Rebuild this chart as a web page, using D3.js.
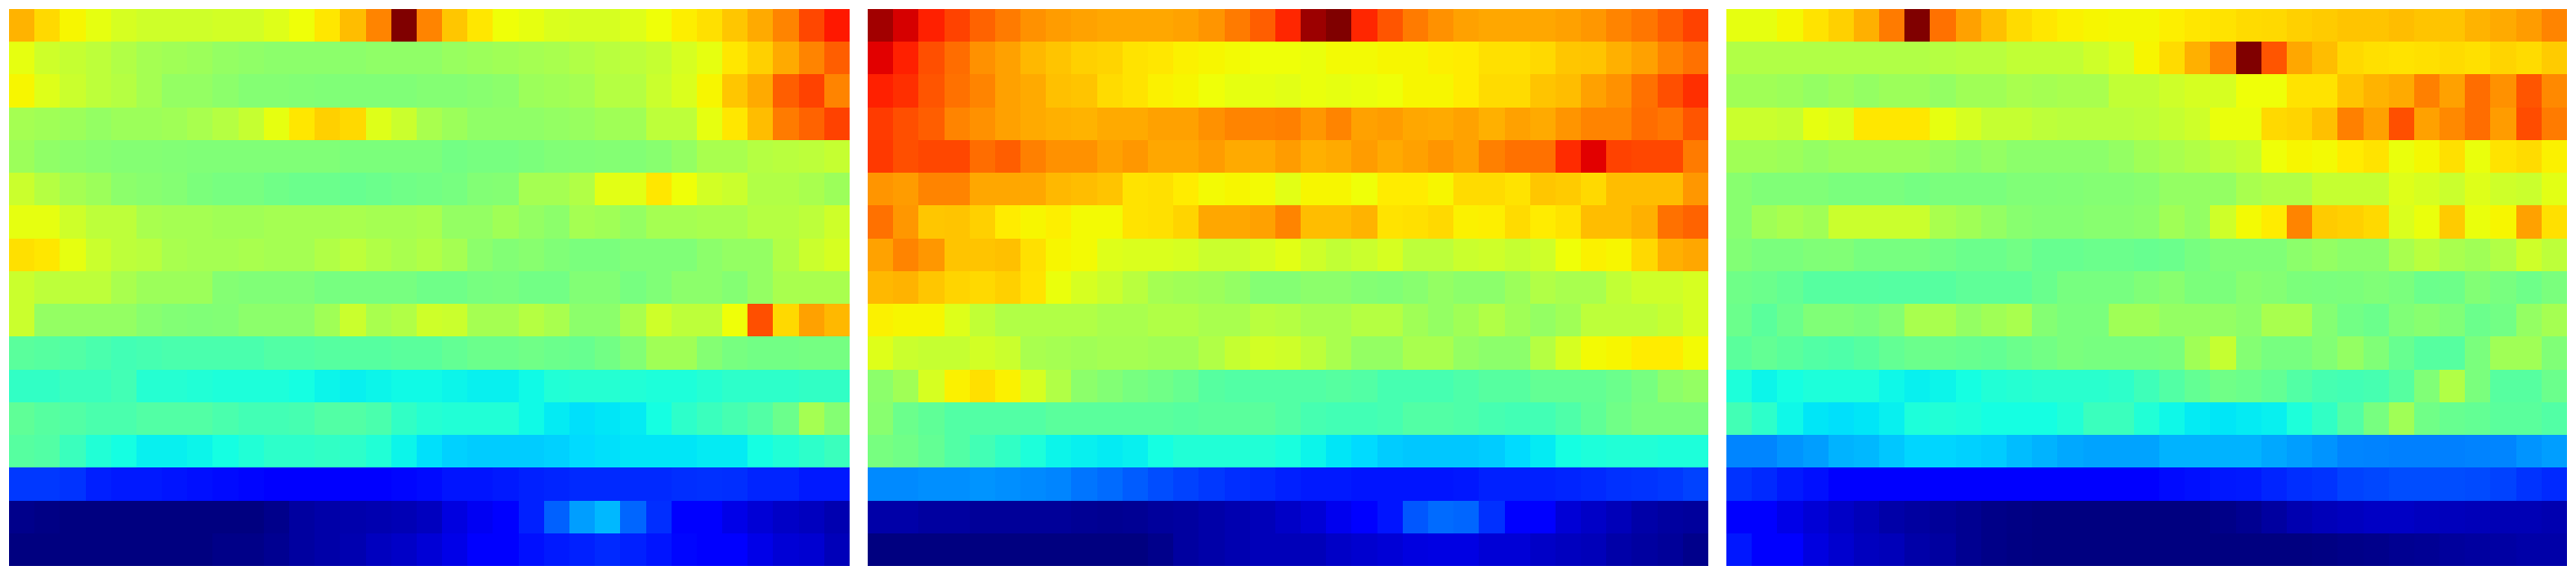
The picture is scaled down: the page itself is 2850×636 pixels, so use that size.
<!DOCTYPE html>
<html>
<head>
<meta charset="utf-8">
<script src="https://cdn.jsdelivr.net/npm/d3@7"></script>
<style>
  html, body { margin: 0; padding: 0; background: #ffffff; }
  svg { display: block; }
</style>
</head>
<body>
<svg id="chart" width="2850" height="636"></svg>
<script>
// ---- Data (values on a 0-100 colour scale, rows top -> bottom, 33 columns each) ----
const columns = d3.range(33);
const rows = d3.range(17);

const panel1 = [
  [72,68,65,63,61,60,60,60,60.5,60.5,62,64,66.5,71,77,100,77,70,66.5,64,63,61.5,61,61,62,64,65.8,67.3,70,73,77,83.5,88.5],
  [63,60,59,58,56.5,55,54.5,54,53,52.5,52,52,52,52,52.5,52.5,52.5,53.5,54,54.5,55,55.5,56.5,57.5,58,59,61,63,66.5,69,73,77,81],
  [65,62,59.5,58,57,55,53,53,52,51,51,50.8,50.5,50.5,50.5,50.5,51,51,51.5,52,54,54.5,55,57,57,59.5,61.5,65,70,73,81,84,77],
  [55,54.5,54,53,54,54,54.5,55.5,57,59,63,66.5,69,68,62,59.5,55.5,54,52.5,52.5,52.5,53,53.5,54.5,54.5,58,58,63,66.5,71,78,80.5,84],
  [54,52.5,52,51.5,51,51,50.8,50.5,50.5,50.5,50.5,50.5,50.5,50,50,50,50,49,49.5,49.5,50,50.7,50.8,51,50.8,51.5,53,55.5,55.5,57,57.5,58,59],
  [59.5,57,55,54,52,51.5,51,50,49.5,49.5,48.6,48,48,47.5,48,48.6,49,49.5,50.8,51,55,55,56.5,62.5,62.5,66.5,64,60.5,59.5,56.5,56.5,55.5,54],
  [63,63,60,58,58,55.5,55,55,54.5,54.5,55,55,55,55.5,55,55,55.5,53,53,54.5,53,52,55,54.5,53,55,55,55.5,55.5,57,57,58,60],
  [67.3,66.5,63,59.5,58,57.5,55.5,55,55,55.5,55,55,56.5,58,56.5,55.5,56.5,55,52,50.8,51.5,50.5,49.8,49.8,50.5,50.5,50.5,52,53,53,56.5,59.5,61],
  [59.5,58,58,58,55.5,54,54,54,51,50.5,50.5,50.5,49.5,49.5,49.5,49.5,48.5,48.5,49.5,49.7,48.8,48.8,50.8,50.8,49.5,50.5,52,52,51,53,55.5,55.5,55.5],
  [59.5,53,53,53,53,51.5,50.8,50.5,50.8,52,52,52,54.5,59.5,55.5,56.5,60,59.5,55,55,57,55.5,52,52,55.5,60,58,58,64,82.6,68,74,71.5],
  [46,45.5,45,44,43,43.5,44,44,44,44,45,45,45.5,45.5,45.5,46,46,47,48,48,48.6,48,47.5,48.8,50.8,54.5,54.5,51,49.5,48.8,48.8,49.2,49.2],
  [41,41,42,42,43,39.5,39.5,39,38.5,38.5,38.5,37.5,36.5,36,36.5,37,37,36.5,36,36,37,39,39.5,39.5,39,38.5,38.5,39.5,40.5,40.5,40.5,41,41],
  [46.6,45.5,45,44,44,45,45,45,44,43,43,43.5,45,45,44,41,39.5,39,39,39,37,35.5,34.5,35,35.5,37.5,40.5,42,43.5,45,48,55,51],
  [45.5,45,42,39,37.5,36,36,36.5,37.5,39,40.5,40.5,41,40.5,39,36.5,34.5,33,32.5,32.5,32.5,33,34,34.5,35,35,35,35.5,35.5,37.5,39,40.5,42],
  [18,18,17.5,15.5,15,15,14.5,14,13.5,13,12.5,12,12,12,12,13,13.5,14.5,14.5,15,15.6,16,16.5,16.5,16.5,16.5,17,17.2,17,16,16,15,15],
  [1,0.5,0,0,0,0,0,0,0,0,1,2.8,3.5,3.8,4.2,4.6,5.5,8.3,10,12,15.6,22,28,30.5,22.5,17,12,11.5,9,7.5,6.2,5.5,4.2],
  [0,0,0,0,0,0,0,0,0.7,0.7,1.5,2.8,3.5,4.2,5.5,6.2,7.5,9,11.5,12,14,15,15.6,16.5,15.6,14.5,13,12,11.5,9,7.5,7,5]
];

const panel2 = [
  [97,92.5,87.6,84,80.5,78,75.7,74.5,73.8,73.3,73.3,73.3,73.8,75.2,78,81,87,97.5,100,87,82,78,75.7,74,73.3,73.3,73.3,74,75,77,78.5,81,84],
  [91.5,87.6,82.6,79.5,75.7,74,71.5,70.2,69,68.5,67,66.5,65.5,65,64.5,64,64,63.5,64.5,64.5,65,65,65.7,66,67.3,67.3,68,70,70.2,72.4,74,77,79],
  [87.6,86,82,79,77,74,73,70.7,70.2,67.8,67,65.5,65,64,63,63,62.5,63.5,63,63.5,64,65,65,66,67.8,67.8,70.2,71,74,75.7,79,82.6,86],
  [84.7,82.6,81,77,75.7,74,73,72.4,72,73,73,74,74,75.7,77,77,77.5,75,77,74,74.5,73.3,73,73.8,72.4,74,73,75.2,77,77,79.5,78.5,82],
  [85,82.6,83.5,83.5,79.5,81,77.5,75.7,75.7,74,75,73.3,73.3,74.5,73,73,74.5,72.4,73,74.5,73,74,75.2,74,77.5,79,79,86.5,91.5,84,83.5,83.5,78],
  [75.2,74.5,77,77,73.3,73.3,73.3,71.5,71,70.2,67,67.3,66,64.5,65,64.5,62.5,65,65,64,66,66,65,67.8,67.8,67,70,69.5,68,71,71,71,75],
  [79,75,70,70.2,69,66,65,65.7,64.5,64.5,67,67.3,68.5,73.3,73.3,74,77,71,71,72,67,67.3,68,65.5,65.7,67.8,66,67,71,71,72.4,79,80.5],
  [73.8,77,75,70.2,70.2,70.7,67.3,65,64.5,62,61.5,61.5,61,59.5,59.5,61,62.5,60,58.5,59.5,61,58,58,59.5,60,59,60,64,65.5,65,68,72.4,73.3],
  [71.5,72,70,68.5,68,69,67,63.5,61,59.5,57.5,55,54.5,54,53,51,51,52,52,51,50.7,51.5,53,52,52,54,56.5,55.5,55.5,58.5,60,60,61],
  [65.5,65,65,62,58.5,56.5,56.5,56.5,56.5,55.5,55.5,56.5,56.5,55.5,55.5,57.5,57,55.5,55.5,57,57,54.5,53,54.5,56.5,54.5,53,54.5,58,58,58,59,61],
  [62,59.5,59,59,60.5,59.5,55.5,55,54.5,55,55,54.5,54.5,56.5,59,60.5,60,58,55.5,53,53,55.5,55.5,53,52,52,57,61,64.5,65,66,66,64.5],
  [52,54.5,61,65.5,67.3,65.5,61,56.5,52,50.8,49.5,48.6,47.5,45.5,45,45,45,45,45.5,45,43.5,43.5,43.5,44.5,45.5,45.5,47,47,47,48,49.5,52,53],
  [51.5,48,46.6,45,45,45,45,46,46,46,46,46,45.5,46,46,46,45,43.5,43,43,43.5,45,45,44.5,43.5,43,43,44.5,46.6,48.6,49.8,49.8,49.8],
  [49.5,48.6,47,45,43,41,38.5,36.5,36,35.5,36,37.5,39,39,39,39,38,36.5,35,34,32.5,32,32,32,32.5,34,35.5,37.5,38.5,39,39,38.5,38.5],
  [26,26,26.5,26.5,27,26.5,26,25.5,24,23,21.5,20,19,18,17,16.5,15.6,15,15,14.5,14.5,14.5,14.5,14.8,15.6,15.6,15.6,16,16.5,17.2,17.5,18,19],
  [3.5,3.5,2.8,2.8,2.2,2.2,2.2,2.2,1.8,1.5,1.8,2.5,2.8,3.5,4.2,5,6.2,7.5,9.6,11.5,14.5,21,23,22.5,17.2,12,11.5,7.5,6.2,5,3.5,2.8,2.5],
  [0,0,0,0,0,0,0,0,0,0,0,1,2.8,3.5,4.2,5,5,5,6.2,6.9,7.5,8.3,8.6,8.6,7.5,7.5,6.2,5.5,5,3.5,2.8,2.2,1]
];

const panel3 = [
  [63,63,64.7,67,69,72.4,78,100,79,74,70.7,67.8,66.5,65.5,65,64.7,64.7,65.7,66.5,67,67.8,68,69,69.5,70.2,70.2,71,70.2,70.2,72,73,74.5,77],
  [56.5,56.5,56.5,56.5,56.5,56.5,56.5,56.5,57,57.5,57.5,58.5,58.5,58.5,60,61.5,65,67.8,72.4,77,100,82,73.3,71,68,67.3,67,67.3,67.8,67.3,68.5,67.8,69.5],
  [54.5,54.5,54,53,54,53,54,54,53,54.5,54.5,55.5,55,55.5,55.5,58.5,58.5,60,61,61,64,64,67,67,70.2,72,73,77.5,74,79.5,75.7,82,76.5],
  [59.5,59.5,59,63,62,66.5,66.5,66.5,63,61,59,59,58,57.5,57.5,57.5,58,59,60,63.5,63.5,68,68.5,70.7,77.5,74,82.6,74,76.5,79.5,74.5,83,78],
  [54.5,54.5,54,53,54,54,54,54,53,52,53,52,52,52,52,53,54.5,55.5,56.5,58,59,64,65,64.5,66,67,63.5,64.7,67.3,63.5,67,67.8,65.5],
  [51.5,50.5,50.5,50.5,49.8,49.8,49.8,49.2,49.8,49.8,49.8,50.5,50.5,50.7,51,51,51.5,53,53,53,55.5,56.5,56.5,59,59,59,62,61,59.5,62,60,59.5,62.5],
  [51.5,54.5,55.5,54.5,59.5,59.5,59.5,59.5,55.5,54.5,53,51.5,51,51,51.5,51.5,52,54.5,53,60,64.5,66,77,69.5,69,68,61.5,63.5,69.5,63.5,65,74,67.3],
  [50.8,49.8,49.8,50.5,50.7,49.5,49.5,49.5,48.8,48,48,48.8,47.5,47.5,48,48,47.5,48,49.5,50.5,50.5,50.5,52,53,52,52,55.5,57.5,55.5,54.5,56.5,60,58],
  [48.5,48,47,45.5,45.5,45.5,45.3,45.3,45.5,46.5,46.5,46.5,47.8,49.5,49.5,49.5,50.5,51.5,50,50,51.5,51,50,49.8,50,50.5,49.8,48,48.3,50.8,49.6,48.4,49.8],
  [48,46,48,50.5,50.5,49.8,51,55.5,55.5,53,54.5,55.5,51,49.8,49.8,54.5,54.5,53,53,53,52,55.5,55.5,51,48.8,48,50.5,51.5,50.5,48,48.8,53,55],
  [46,47,46,45,44.5,45.5,47,48,48,47.5,47,48,48.8,49.8,49.5,49.5,49.5,49.8,54.5,59,51,49.5,49.5,50.8,53,50.5,47.5,45.5,45.5,49.8,54.5,54.5,50.5],
  [38.5,36.5,37.5,38.5,38.5,38.5,36.8,36,36.5,37.5,39,39.5,40,40,40,40.5,42.5,45,47,48.6,48,47,45,43.5,43,43.5,45.5,50.5,56.5,49.8,45.5,45.5,48],
  [43,40.5,36.8,35,34.5,35,36,38.5,39,38.5,37.5,37.5,37.5,39,42,42,39,36.8,35.5,35,35.5,36,38.5,41,45,49.5,54.5,48.6,47.5,47,46,46,45],
  [25.5,25.5,27,28,30,30.5,32,33.5,33.5,33,32.5,31,30,29,28.5,28.5,28.5,30,30,30,30,29,28,27,25.5,25.3,25,25,25,25.3,25.5,27,28],
  [17.5,16.5,15,14,12,12,12,12,12,12,12,12,12,12,12,12,12,13.5,14,14.8,15,16,17,17.5,19,19.5,20,20,20,19.8,19,17.5,16.5],
  [11.5,11.5,9,7.5,6.2,5,3.5,2.8,2.2,1.5,0.7,0.4,0,0,0,0,0,0,0,0.7,1.5,2.8,4.2,5,5.5,6,6,5.5,5.2,5,4.6,4.6,4.2],
  [14.8,12,11.5,8.3,6.9,5.5,5,3.5,2.8,1.5,0.7,0.3,0,0,0,0,0,0,0,0,0,0,0,0.3,0.7,1,1.5,1.8,2.5,2.8,3.1,3.5,3.5]
];

const panels = [panel1, panel2, panel3];

// ---- Jet colormap (matplotlib segment data) ----
const jetR = d3.scaleLinear().domain([0, 0.35, 0.66, 0.89, 1]).range([0, 0, 1, 1, 0.5]).clamp(true);
const jetG = d3.scaleLinear().domain([0, 0.125, 0.375, 0.64, 0.91, 1]).range([0, 0, 1, 1, 0, 0]).clamp(true);
const jetB = d3.scaleLinear().domain([0, 0.11, 0.34, 0.65, 1]).range([0.5, 1, 1, 0, 0]).clamp(true);
const jet = t => d3.rgb(jetR(t) * 255, jetG(t) * 255, jetB(t) * 255).toString();
const color = d3.scaleSequential(jet).domain([0, 100]);

// ---- Layout ----
const panelW = 930, panelH = 616, marginTop = 10;
const panelX = d3.scaleBand().domain(d3.range(panels.length)).range([10, 2840]).paddingInner(20 / 950);

const x = d3.scaleBand().domain(columns).range([0, panelW]);
const y = d3.scaleBand().domain(rows).range([0, panelH]);

const svg = d3.select("#chart");

panels.forEach((data, p) => {
  const g = svg.append("g")
    .attr("transform", `translate(${Math.round(panelX(p))},${marginTop})`);

  const cells = [];
  data.forEach((row, r) => row.forEach((v, c) => cells.push({ r, c, v })));

  g.selectAll("rect")
    .data(cells)
    .join("rect")
    .attr("x", d => Math.round(x(d.c)))
    .attr("y", d => Math.round(y(d.r)))
    .attr("width", d => Math.round(x(d.c) + x.bandwidth()) - Math.round(x(d.c)))
    .attr("height", d => Math.round(y(d.r) + y.bandwidth()) - Math.round(y(d.r)))
    .attr("fill", d => color(d.v))
    .attr("shape-rendering", "crispEdges");
});
</script>
</body>
</html>
